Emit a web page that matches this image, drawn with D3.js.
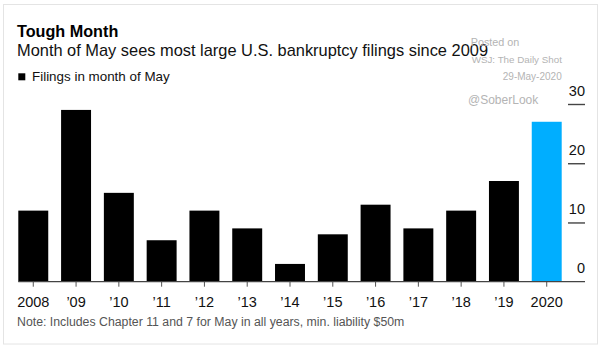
<!DOCTYPE html>
<html>
<head>
<meta charset="utf-8">
<script src="https://cdn.jsdelivr.net/npm/d3@7"></script>
<style>
  html, body { margin: 0; padding: 0; background: #fff; }
  svg { display: block; }
  text { font-family: "Liberation Sans", Arial, Helvetica, sans-serif; }
</style>
</head>
<body>
<svg id="chart" width="610" height="350"></svg>
<script>
const categories = ["2008", "’09", "’10", "’11", "’12", "’13", "’14", "’15", "’16", "’17", "’18", "’19", "2020"];
const filings = [12, 29, 15, 7, 12, 9, 3, 8, 13, 9, 12, 17, 27];
const yTicks = [0, 10, 20, 30];
const highlight = "2020";

const svg = d3.select("#chart");

// card
svg.append("rect")
  .attr("x", 3.5).attr("y", 4.5).attr("width", 594).attr("height", 339.5)
  .attr("fill", "#fff").attr("stroke", "#e4e4e4").attr("stroke-width", 1);

// titles
svg.append("text").attr("x", 17).attr("y", 37.3)
  .attr("font-size", 16.2).attr("font-weight", "bold").attr("fill", "#000")
  .text("Tough Month");
svg.append("text").attr("x", 17).attr("y", 56)
  .attr("font-size", 16.4).attr("fill", "#111")
  .text("Month of May sees most large U.S. bankruptcy filings since 2009");

// legend
svg.append("rect").attr("x", 18.3).attr("y", 73.3).attr("width", 7).attr("height", 7).attr("fill", "#000");
svg.append("text").attr("x", 32).attr("y", 80.5)
  .attr("font-size", 13.4).attr("fill", "#111")
  .text("Filings in month of May");

// watermark
const wm = svg.append("g").attr("fill", "#b4b4b4");
wm.append("text").attr("x", 470.7).attr("y", 45.7).attr("font-size", 10.8).text("Posted on");
wm.append("text").attr("x", 471.7).attr("y", 63.3).attr("font-size", 9.8).text("WSJ: The Daily Shot");
wm.append("text").attr("x", 561.7).attr("y", 80).attr("font-size", 10).attr("text-anchor", "end").text("29-May-2020");
wm.append("text").attr("x", 468).attr("y", 104).attr("font-size", 12).text("@SoberLook");

// scales
const x = d3.scaleBand().domain(categories).range([18.3, 561.7]).paddingInner(0.3).paddingOuter(0);
const y = d3.scaleLinear().domain([0, 30]).range([281.7, 104]);

// bars
svg.append("g").selectAll("rect").data(categories).join("rect")
  .attr("x", d => x(d))
  .attr("width", x.bandwidth())
  .attr("y", (d, i) => y(filings[i]))
  .attr("height", (d, i) => y(0) - y(filings[i]))
  .attr("fill", d => d === highlight ? "#00aeff" : "#000");

// x axis
const xAxis = svg.append("g").attr("transform", `translate(0,${y(0)})`)
  .call(d3.axisBottom(x).tickSize(5).tickSizeOuter(0).tickPadding(0));
xAxis.select(".domain").remove();
xAxis.selectAll(".tick line").attr("stroke", "#555");
xAxis.selectAll(".tick text").attr("y", 25).attr("dy", 0)
  .attr("font-size", 14.5).attr("fill", "#111")
  .attr("font-family", "'Liberation Sans', Arial, sans-serif");
svg.append("line")
  .attr("x1", 18.3).attr("x2", 585).attr("y1", y(0)).attr("y2", y(0))
  .attr("stroke", "#444").attr("stroke-width", 1.2);

// y axis (right)
const yAxis = svg.append("g").attr("transform", "translate(585,0)")
  .call(d3.axisLeft(y).tickValues(yTicks).tickSize(17).tickPadding(0));
yAxis.select(".domain").remove();
yAxis.selectAll(".tick line").attr("stroke", "#444").attr("stroke-width", 1.4)
  .style("display", d => d === 0 ? "none" : null);
yAxis.selectAll(".tick text").attr("x", 0).attr("dy", -9).attr("text-anchor", "end")
  .attr("font-size", 14.5).attr("fill", "#111")
  .attr("font-family", "'Liberation Sans', Arial, sans-serif");

// note
svg.append("text").attr("x", 17).attr("y", 326)
  .attr("font-size", 12.3).attr("fill", "#555")
  .text("Note: Includes Chapter 11 and 7 for May in all years, min. liability $50m");
</script>
</body>
</html>
